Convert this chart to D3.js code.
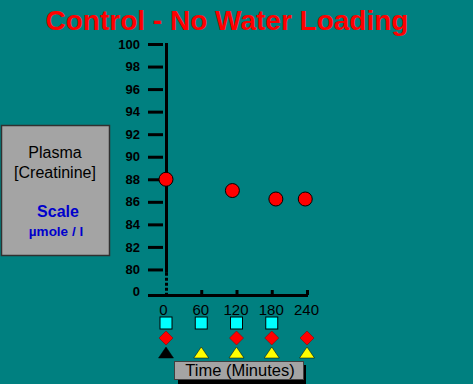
<!DOCTYPE html>
<html><head><meta charset="utf-8">
<script src="https://cdn.jsdelivr.net/npm/d3@7"></script>
<style>html,body{margin:0;padding:0;background:#008080;}svg{display:block;}</style>
</head><body>
<script>
const yTicks = [80, 82, 84, 86, 88, 90, 92, 94, 96, 98, 100];
const xTicks = [0, 60, 120, 180, 240];
const times = [0, 113, 187, 237];
const creatinine = [88, 87, 86.25, 86.25];
const squareTimes = [0, 60, 120, 180];
const diamondTimes = [0, 120, 180, 240];
const triangleTimes = [0, 60, 120, 180, 240];
const triangleColors = ["#000000", "#ffff00", "#ffff00", "#ffff00", "#ffff00"];

const W = 473, H = 384;
const svg = d3.select("body").append("svg").attr("width", W).attr("height", H);
svg.append("rect").attr("width", W).attr("height", H).attr("fill", "#008080");

const x = d3.scaleLinear().domain([0, 240]).range([166, 307]);
const y = d3.scaleLinear().domain([78, 100]).range([292, 44]);
const lf = "Liberation Sans, Arial, sans-serif";

// title
svg.append("text").attr("x", 227).attr("y", 30).attr("text-anchor", "middle")
  .attr("font-family", lf).attr("font-weight", "bold")
  .attr("font-size", 28).attr("fill", "#ff0000").text("Control - No Water Loading");

// left label box
svg.append("rect").attr("x", 1.5).attr("y", 125.5).attr("width", 108).attr("height", 130)
  .attr("fill", "#a4a4a4").attr("stroke", "#303030").attr("stroke-width", 1.5);
svg.append("text").attr("x", 55).attr("y", 158).attr("text-anchor", "middle").attr("font-family", lf)
  .attr("font-size", 16).attr("fill", "#000").text("Plasma");
svg.append("text").attr("x", 55).attr("y", 178).attr("text-anchor", "middle").attr("font-family", lf)
  .attr("font-size", 16).attr("fill", "#000").text("[Creatinine]");
svg.append("text").attr("x", 58).attr("y", 217).attr("text-anchor", "middle").attr("font-family", lf)
  .attr("font-size", 16).attr("font-weight", "bold").attr("fill", "#0000cc").text("Scale");
svg.append("text").attr("x", 56).attr("y", 236).attr("text-anchor", "middle").attr("font-family", lf)
  .attr("font-size", 13.5).attr("font-weight", "bold").attr("fill", "#0000cc").text("µmole / l");

// y axis
const yAxis = d3.axisLeft(y).tickValues(yTicks).tickSize(18).tickPadding(8).tickFormat(d3.format("d"));
const gy = svg.append("g").attr("transform", "translate(166,0)").call(yAxis);
gy.select(".domain").remove();
gy.selectAll(".tick line").attr("stroke", "#000").attr("stroke-width", 3).attr("x2", -3).attr("x1", -18);
gy.selectAll(".tick text").attr("font-family", lf).attr("font-weight", "bold")
  .attr("font-size", 13).attr("fill", "#000").attr("x", -26);
// break label "0"
svg.append("text").attr("x", 140).attr("y", y(78)).attr("dy", "0.32em").attr("text-anchor", "end")
  .attr("font-family", lf).attr("font-weight", "bold").attr("font-size", 13).attr("fill", "#000").text("0");
// axis line solid + dotted break
svg.append("line").attr("x1", 166.5).attr("x2", 166.5).attr("y1", y(100) - 1).attr("y2", y(79.7))
  .attr("stroke", "#000").attr("stroke-width", 3);
svg.append("line").attr("x1", 166.5).attr("x2", 166.5).attr("y1", y(79.7)).attr("y2", 296)
  .attr("stroke", "#000").attr("stroke-width", 3).attr("stroke-dasharray", "3,2");

// x axis (ticks point upward, labels below)
const xAxis = d3.axisBottom(x).tickValues(xTicks).tickSize(0).tickPadding(9).tickFormat(d3.format("d"));
const gx = svg.append("g").attr("transform", "translate(0,295)").call(xAxis);
gx.select(".domain").remove();
gx.selectAll(".tick line").attr("stroke", "#000").attr("stroke-width", 3)
  .attr("y1", 0).attr("y2", d => d === 0 ? 0 : -5);
gx.selectAll(".tick text").attr("font-family", lf).attr("font-size", 15).attr("fill", "#000")
  .attr("dx", d => d === 0 ? -3 : -1);
svg.append("line").attr("x1", 148).attr("x2", 308).attr("y1", 295.5).attr("y2", 295.5)
  .attr("stroke", "#000").attr("stroke-width", 3);

// data points
svg.selectAll("circle.pt").data(times).join("circle").attr("class", "pt")
  .attr("cx", d => x(d)).attr("cy", (d, i) => y(creatinine[i])).attr("r", 7)
  .attr("fill", "#ff0000").attr("stroke", "#000").attr("stroke-width", 1);

// event markers
svg.selectAll("rect.sq").data(squareTimes).join("rect").attr("class", "sq")
  .attr("x", d => x(d) - 6).attr("y", 317).attr("width", 12).attr("height", 12)
  .attr("fill", "#00ffff").attr("stroke", "#000").attr("stroke-width", 1);
svg.selectAll("path.dm").data(diamondTimes).join("path").attr("class", "dm")
  .attr("d", d => { const cx = x(d), cy = 338; return `M${cx},${cy-7}L${cx+7},${cy}L${cx},${cy+7}L${cx-7},${cy}Z`; })
  .attr("fill", "#ff0000").attr("stroke", "#800000").attr("stroke-width", 0.5);
svg.selectAll("path.tri").data(triangleTimes).join("path").attr("class", "tri")
  .attr("d", d => { const cx = x(d), b = 358; return `M${cx},${b-11}L${cx+7.5},${b}L${cx-7.5},${b}Z`; })
  .attr("fill", (d, i) => triangleColors[i]).attr("stroke", "#000").attr("stroke-width", 0.5);

// time label box with shadow
svg.append("rect").attr("x", 178).attr("y", 365).attr("width", 128).attr("height", 19).attr("fill", "#000");
svg.append("rect").attr("x", 174.5).attr("y", 361.5).attr("width", 129).attr("height", 18)
  .attr("fill", "#a4a4a4").attr("stroke", "#404040").attr("stroke-width", 1);
svg.append("text").attr("x", 240).attr("y", 376).attr("text-anchor", "middle").attr("font-family", lf)
  .attr("font-size", 16.5).attr("fill", "#000").text("Time (Minutes)");
</script>
</body></html>
